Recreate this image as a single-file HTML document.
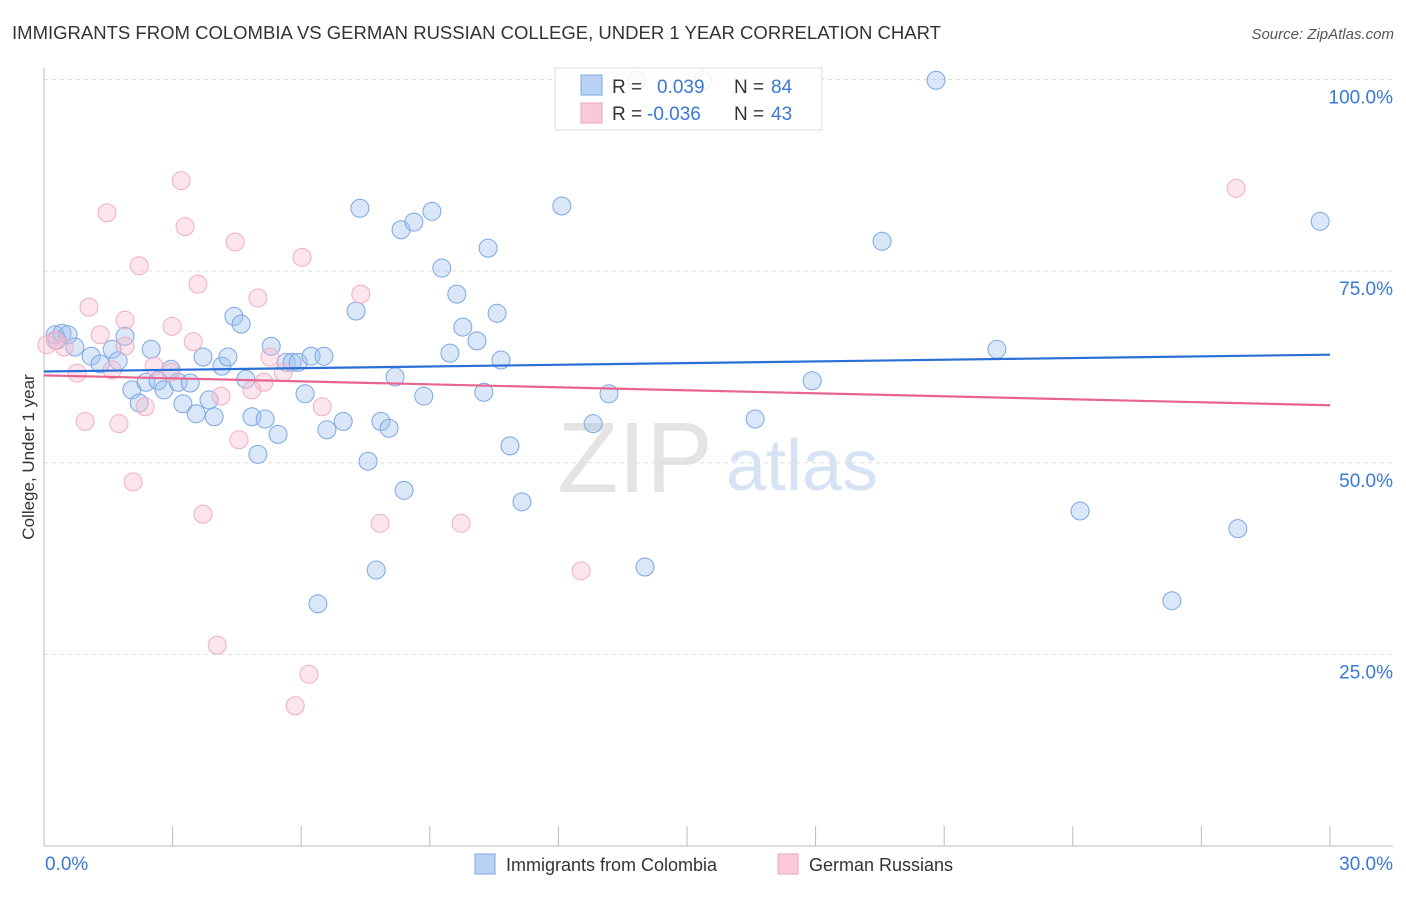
<!DOCTYPE html>
<html><head><meta charset="utf-8"><style>
body{margin:0;background:#fff;font-family:"Liberation Sans",sans-serif;}
svg text{font-family:"Liberation Sans",sans-serif;}
</style></head><body>
<svg id="chart" width="1406" height="892" xmlns="http://www.w3.org/2000/svg">
<text x="12" y="39" font-size="18" fill="#333" textLength="929" lengthAdjust="spacingAndGlyphs">IMMIGRANTS FROM COLOMBIA VS GERMAN RUSSIAN COLLEGE, UNDER 1 YEAR CORRELATION CHART</text>
<text x="1394" y="39" font-size="15" fill="#555" font-style="italic" text-anchor="end">Source: ZipAtlas.com</text>
<g>
<text x="635" y="492" font-size="100" fill="#e4e4e4" font-family="Liberation Serif" text-anchor="middle">ZIP</text>
<text x="802" y="490" font-size="72" fill="#d6e3f5" text-anchor="middle">atlas</text>
</g>
<g id="grid"></g>
<g id="axes"></g>
<g id="pts"></g>
<g id="trends"></g>
<text transform="translate(34,457) rotate(-90)" font-size="17" fill="#333" text-anchor="middle">College, Under 1 year</text>
<g>
<rect x="555" y="68" width="267" height="62" fill="#fff" fill-opacity="0.85" stroke="#ddd"/>
<rect x="581" y="75" width="21" height="20" fill="#b9d3f5" stroke="#7eaae6"/>
<text x="612" y="93" font-size="19" fill="#333">R =</text>
<text x="657" y="93" font-size="19" fill="#3a78d4">0.039</text>
<text x="734" y="93" font-size="19" fill="#333">N =</text>
<text x="771" y="93" font-size="19" fill="#3a78d4">84</text>
<rect x="581" y="103" width="21" height="20" fill="#f9c9d8" stroke="#eea3ba"/>
<text x="612" y="120" font-size="19" fill="#333">R =</text>
<text x="647" y="120" font-size="19" fill="#3a78d4">-0.036</text>
<text x="734" y="120" font-size="19" fill="#333">N =</text>
<text x="771" y="120" font-size="19" fill="#3a78d4">43</text>
</g>
<g>
<rect x="475" y="854" width="20" height="20" fill="#b9d3f5" stroke="#7eaae6"/>
<text x="506" y="871" font-size="18" fill="#333">Immigrants from Colombia</text>
<rect x="778" y="854" width="20" height="20" fill="#f9c9d8" stroke="#eea3ba"/>
<text x="809" y="871" font-size="18" fill="#333">German Russians</text>
</g>
</svg>
<script>
const blueX=[0.26,0.42,0.56,0.72,0.30,1.10,1.31,1.59,1.73,1.89,2.05,2.22,2.38,2.50,2.66,2.80,2.96,3.13,3.24,3.41,3.55,3.71,3.85,3.97,4.15,4.29,4.43,4.60,4.71,4.85,4.99,5.16,5.30,5.46,5.65,5.79,5.93,6.09,6.23,6.39,6.53,6.60,6.98,7.28,7.37,7.56,7.75,7.86,8.05,8.19,8.33,8.40,8.63,8.86,9.05,9.28,9.47,9.63,9.77,10.1,10.36,10.26,10.57,10.66,10.87,11.15,12.08,12.81,13.18,14.02,16.59,17.92,19.55,20.81,22.23,24.17,26.31,27.85,29.77,13.83,15.37];
const blueY=[66.7,66.9,66.7,65.1,66.0,63.9,62.9,64.8,63.3,66.5,59.5,57.8,60.5,64.8,60.7,59.5,62.2,60.5,57.7,60.4,56.4,63.8,58.2,56.0,62.6,63.8,69.1,68.1,60.9,56.0,51.1,55.7,65.2,53.7,63.1,63.1,63.1,59.0,63.9,31.6,63.9,54.3,55.4,69.8,83.2,50.2,36.0,55.4,54.5,61.2,80.4,46.4,81.4,58.7,82.8,75.4,64.3,72.0,67.7,65.9,78.0,59.2,69.5,63.4,52.2,44.9,83.5,55.1,59.0,36.4,55.7,60.7,78.9,99.9,64.8,43.7,32.0,41.4,81.5,99.9,99.9];
const pinkX=[1.47,3.20,3.29,2.22,4.46,3.59,1.05,4.99,6.02,7.39,1.89,1.31,2.99,3.48,0.47,1.89,0.77,1.59,2.57,2.96,5.27,5.58,5.13,4.13,4.85,6.49,2.36,0.96,1.75,4.55,2.08,3.71,7.84,9.73,12.53,4.04,6.18,5.86,27.81,0.07,0.26];
const pinkY=[82.6,86.8,80.8,75.7,78.8,73.3,70.3,71.5,76.8,72.0,68.6,66.7,67.8,65.8,65.1,65.2,61.7,62.1,62.6,61.8,63.8,61.8,60.5,58.7,59.5,57.3,57.3,55.4,55.1,53.0,47.5,43.3,42.1,42.1,35.9,26.2,22.4,18.3,85.8,65.4,66.0];
const trendBlue=[61.9,64.1];
const trendPink=[61.4,57.5];
const yTicks=[25,50,75,100];
const yTickLabels=["25.0%","50.0%","75.0%","100.0%"];
const xTicks=[0,3,6,9,12,15,18,21,24,27,30];
const xLabels=["0.0%","30.0%"];
const NS="http://www.w3.org/2000/svg";
const X0=44,X1=1330,YB=846,YT=79.5;
function sx(v){return X0+(v/30)*(X1-X0);}
function sy(v){return YB-(v/100)*(YB-YT);}
function mk(tag,attrs,parent){const e=document.createElementNS(NS,tag);for(const k in attrs)e.setAttribute(k,attrs[k]);document.getElementById(parent).appendChild(e);return e;}
yTicks.forEach((t,i)=>{
 const l=mk('line',{x1:X0,x2:1393,y1:sy(t),y2:sy(t),stroke:'#ddd','stroke-dasharray':'4,4'},'grid');
 
 
 const tx=mk('text',{x:1393,y:sy(t)+24,'font-size':19,fill:'#3a78d4','text-anchor':'end'},'grid');
 tx.textContent=yTickLabels[i];
 
 
});
let a=mk('line',{x1:X0,x2:X0,y1:68,y2:YB,stroke:'#bbb'},'axes');


a=mk('line',{x1:X0,x2:1393,y1:YB,y2:YB,stroke:'#bbb'},'axes');


xTicks.forEach(t=>{
 const l=mk('line',{x1:sx(t),x2:sx(t),y1:826,y2:YB,stroke:'#bbb'},'axes');
 
 
});
let t0=mk('text',{x:45,y:870,'font-size':19,fill:'#3a78d4'},'axes');t0.textContent=xLabels[0];


let t1=mk('text',{x:1393,y:870,'font-size':19,fill:'#3a78d4','text-anchor':'end'},'axes');t1.textContent=xLabels[1];


blueX.forEach((v,i)=>{
 const c=mk('circle',{cx:sx(v),cy:sy(blueY[i]),r:9,fill:'rgba(160,195,240,0.4)',stroke:'#7aa7e6','stroke-width':1},'pts');
 
 
});
pinkX.forEach((v,i)=>{
 const c=mk('circle',{cx:sx(v),cy:sy(pinkY[i]),r:9,fill:'rgba(248,190,210,0.4)',stroke:'#f0aec3','stroke-width':1},'pts');
 
 
});
let tb=mk('line',{x1:sx(0),x2:sx(30),y1:sy(trendBlue[0]),y2:sy(trendBlue[1]),stroke:'#2a6fd6','stroke-width':2.2},'trends');


let tp=mk('line',{x1:sx(0),x2:sx(30),y1:sy(trendPink[0]),y2:sy(trendPink[1]),stroke:'#e8648e','stroke-width':2.2},'trends');


</script>
</body></html>
